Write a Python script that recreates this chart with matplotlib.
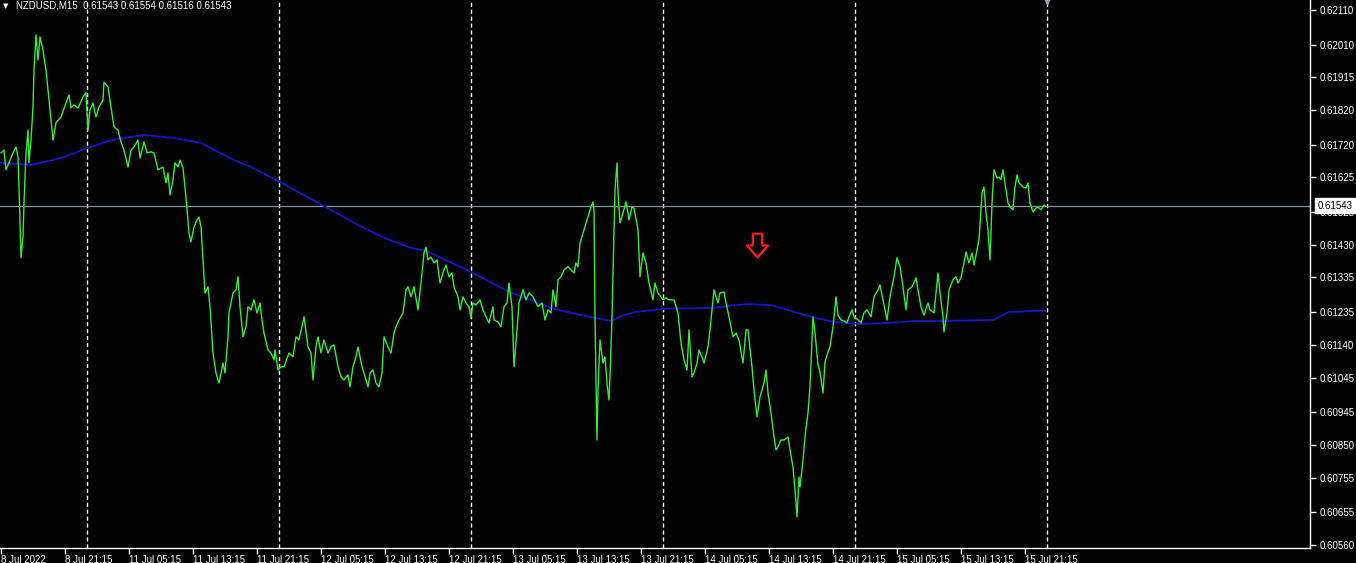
import matplotlib
matplotlib.use("Agg")
import matplotlib.pyplot as plt
import matplotlib.transforms as mtransforms
from matplotlib.path import Path

plt.rcParams['font.family'] = ['Liberation Sans', 'DejaVu Sans']

# NZDUSD M15 close (bar index, price)
green_bar = [0, 1.5, 2.5, 4, 6, 7.5, 8.5, 9, 10, 11, 11.5, 12.5, 13.5, 14, 15, 16, 16.5, 17.5, 18.5, 19.5,
             21, 22.5, 24, 26, 27.5, 30, 32.5, 34, 35, 36.5, 38.5, 41, 42.5, 43.5, 44.5, 46, 47.5, 49, 51, 51.5,
             53.5, 55, 56.5, 58.5, 60, 61.5, 63.5, 65, 66.5, 68.5, 69.5, 71.5, 73, 75, 76.5, 78.5, 81, 82.5, 83.5, 84.5,
             86, 87, 88.5, 89.5, 91, 92.5, 94, 95, 96.5, 98, 99, 100, 101, 102, 103.5, 104.5, 106, 107.5, 109, 111,
             112, 113.5, 114, 116, 117.5, 118.5, 119.5, 121, 122.5, 123.5, 125, 126.5, 128, 129.5, 130.5, 131.5, 133.5, 135, 136.5, 137,
             138.5, 140, 141.5, 144, 146, 147.5, 149, 151.5, 153.5, 155, 156, 157.5, 158.5, 160, 161.5, 163.5, 165, 166.5, 168.5, 170,
             171.5, 173.5, 174.5, 176, 177.5, 178.5, 180.5, 181.5, 183.5, 184.5, 186, 187.5, 189, 190.5, 191.5, 193.5, 195, 196.5, 197.5, 199,
             201, 202.5, 203.5, 205, 206.5, 208.5, 210, 211.5, 212.5, 213.5, 215, 216.5, 218, 219.5, 221.5, 222.5, 224, 225.5, 226.5, 228.5,
             229.5, 231, 232.5, 234, 235, 236, 237.5, 239.5, 241, 242.5, 244, 246, 246.5, 248.5, 250, 251.5, 253, 254, 255.5, 256.5,
             258, 259, 261, 262.5, 264, 266, 267.5, 268.5, 270.5, 272, 273.5, 275, 276, 277.5, 278.5, 280, 281.5, 283.5, 285, 286.5,
             287.5, 288.5, 289.5, 291.5, 293.5, 295, 296, 296.5, 297, 297.5, 298, 298.5, 299.5, 301, 302, 303, 304, 304.5, 305.5, 306.5,
             307, 308, 308.5, 309.5, 311, 312.5, 313.5, 314, 315.5, 316.5, 318.5, 319.5, 321, 322.5, 324, 326, 327, 328.5, 331, 332.5,
             334, 336.5, 338.5, 340, 341.5, 343, 344, 345.5, 346.5, 348, 349, 350.5, 351.5, 353.5, 354.5, 356.5, 358.5, 359.5, 361.5, 362.5,
             364, 366, 367.5, 369, 371, 372.5, 373.5, 375.5, 376.5, 378, 379.5, 381.5, 382.5, 383.5, 385, 386.5, 387.5, 388.5, 390, 391.5,
             393.5, 394.5, 396, 397, 398, 399, 399.5, 401, 402, 403.5, 404.5, 406, 407, 408.5, 409.5, 411, 412, 413.5, 414.5, 416,
             417.5, 418.5, 420, 421.5, 423, 424, 425.5, 426.5, 428.5, 430, 431.5, 433, 435, 436.5, 438.5, 439.5, 441, 443, 444.5, 446.5,
             448, 449.5, 451, 452.5, 453.5, 455.5, 457.5, 458.5, 460, 461.5, 463.5, 464.5, 466.5, 467.5, 468.5, 469.5, 471, 471.5, 473, 474,
             476, 477.5, 478.5, 480, 481.5, 482.5, 484, 485.5, 486.5, 488, 489, 490.5, 491.5, 492.5, 493.5, 494.5, 495.5, 496.5, 498, 499,
             500, 501, 502, 503.5, 504.5, 506, 507, 508, 509, 511, 512.5, 513.5, 514.5, 516, 517.5, 518.5, 520, 521.5, 522]
green_price = [0.61696, 0.61704, 0.61647, 0.61667, 0.61696, 0.61713, 0.61684, 0.61597, 0.61392, 0.61452, 0.61551, 0.61696, 0.61762, 0.61667, 0.61733, 0.61829, 0.61936, 0.62038, 0.61965, 0.62032,
               0.61994, 0.61936, 0.61849, 0.61733, 0.61783, 0.61800, 0.61841, 0.61864, 0.61826, 0.61835, 0.61826, 0.61858, 0.61870, 0.61762, 0.61820, 0.61841, 0.61800, 0.61829, 0.61849, 0.61901,
               0.61887, 0.61829, 0.61771, 0.61762, 0.61728, 0.61704, 0.61655, 0.61704, 0.61713, 0.61733, 0.61681, 0.61728, 0.61696, 0.61699, 0.61696, 0.61647, 0.61655, 0.61609, 0.61638, 0.61574,
               0.61618, 0.61667, 0.61655, 0.61675, 0.61652, 0.61568, 0.61464, 0.61438, 0.61481, 0.61502, 0.61510, 0.61481, 0.61386, 0.61290, 0.61308, 0.61250, 0.61116, 0.61058, 0.61029, 0.61087,
               0.61058, 0.61163, 0.61232, 0.61290, 0.61299, 0.61337, 0.61250, 0.61163, 0.61192, 0.61250, 0.61241, 0.61270, 0.61232, 0.61261, 0.61212, 0.61174, 0.61125, 0.61116, 0.61096, 0.61125,
               0.61067, 0.61076, 0.61076, 0.61116, 0.61105, 0.61163, 0.61154, 0.61221, 0.61134, 0.61116, 0.61038, 0.61134, 0.61163, 0.61116, 0.61154, 0.61116, 0.61134, 0.61140, 0.61076, 0.61047,
               0.61038, 0.61053, 0.61018, 0.61076, 0.61105, 0.61134, 0.61076, 0.61058, 0.61018, 0.61058, 0.61067, 0.61029, 0.61018, 0.61058, 0.61163, 0.61134, 0.61116, 0.61174, 0.61192, 0.61212,
               0.61232, 0.61299, 0.61308, 0.61279, 0.61308, 0.61241, 0.61319, 0.61406, 0.61423, 0.61386, 0.61394, 0.61377, 0.61386, 0.61319, 0.61357, 0.61371, 0.61337, 0.61348, 0.61308, 0.61279,
               0.61241, 0.61279, 0.61261, 0.61250, 0.61218, 0.61261, 0.61255, 0.61270, 0.61241, 0.61221, 0.61203, 0.61250, 0.61212, 0.61206, 0.61192, 0.61250, 0.61261, 0.61319, 0.61250, 0.61076,
               0.61183, 0.61261, 0.61299, 0.61270, 0.61290, 0.61279, 0.61261, 0.61250, 0.61261, 0.61212, 0.61241, 0.61232, 0.61299, 0.61250, 0.61328, 0.61337, 0.61357, 0.61366, 0.61357, 0.61348,
               0.61377, 0.61366, 0.61435, 0.61473, 0.61510, 0.61539, 0.61554, 0.61531, 0.61221, 0.61029, 0.60864, 0.61009, 0.61154, 0.61087, 0.61105, 0.61029, 0.60980, 0.61047, 0.61221, 0.61464,
               0.61589, 0.61667, 0.61580, 0.61493, 0.61522, 0.61554, 0.61522, 0.61502, 0.61539, 0.61536, 0.61473, 0.61337, 0.61406, 0.61377, 0.61319, 0.61270, 0.61319, 0.61290, 0.61270, 0.61276,
               0.61270, 0.61270, 0.61232, 0.61145, 0.61096, 0.61067, 0.61183, 0.61047, 0.61058, 0.61087, 0.61125, 0.61105, 0.61087, 0.61134, 0.61183, 0.61299, 0.61261, 0.61290, 0.61293, 0.61261,
               0.61221, 0.61163, 0.61174, 0.61154, 0.61087, 0.61183, 0.61183, 0.61076, 0.61009, 0.60931, 0.60989, 0.61029, 0.61067, 0.61000, 0.60943, 0.60873, 0.60835, 0.60844, 0.60864, 0.60864,
               0.60873, 0.60835, 0.60786, 0.60719, 0.60641, 0.60757, 0.60728, 0.60806, 0.60873, 0.60943, 0.61018, 0.61221, 0.61174, 0.61082, 0.61061, 0.61000, 0.61090, 0.61119, 0.61134, 0.61192,
               0.61279, 0.61226, 0.61212, 0.61209, 0.61203, 0.61221, 0.61241, 0.61221, 0.61212, 0.61203, 0.61232, 0.61241, 0.61221, 0.61279, 0.61299, 0.61313, 0.61270, 0.61212, 0.61279, 0.61337,
               0.61392, 0.61366, 0.61308, 0.61241, 0.61299, 0.61308, 0.61334, 0.61299, 0.61250, 0.61226, 0.61261, 0.61241, 0.61232, 0.61290, 0.61348, 0.61290, 0.61221, 0.61177, 0.61232, 0.61299,
               0.61328, 0.61337, 0.61319, 0.61334, 0.61377, 0.61409, 0.61377, 0.61406, 0.61371, 0.61415, 0.61444, 0.61580, 0.61597, 0.61522, 0.61473, 0.61386, 0.61551, 0.61647, 0.61623, 0.61626,
               0.61618, 0.61647, 0.61609, 0.61551, 0.61539, 0.61531, 0.61597, 0.61632, 0.61609, 0.61597, 0.61594, 0.61609, 0.61551, 0.61525, 0.61536, 0.61539, 0.61531, 0.61545, 0.61543]

# moving average (blue)
ma_bar = [0, 15, 30, 43.5, 55, 71.5, 86.5, 100, 107.5, 116.5, 125, 139.5, 161.5, 176.5, 191.5, 205, 212.5, 235, 254,
          276.5, 291.5, 305, 311.5, 317.5, 331.5, 355, 373.5, 385, 405, 416.5, 430, 443.5, 456.5, 471.5, 496, 504, 516.5, 522]
ma_price = [0.61667, 0.61661, 0.61681, 0.61710, 0.61733, 0.61748, 0.61739, 0.61725, 0.61702, 0.61675, 0.61655, 0.61612, 0.61542,
            0.61493, 0.61450, 0.61421, 0.61412, 0.61351, 0.61293, 0.61244, 0.61224, 0.61209, 0.61226, 0.61235, 0.61244, 0.61247,
            0.61258, 0.61255, 0.61221, 0.61206, 0.61200, 0.61203, 0.61209, 0.61209, 0.61212, 0.61235, 0.61238, 0.61238]

# axis labels
x_tick_bars = [0, 32, 64, 96, 128, 160, 192, 224, 256, 288, 320, 352, 384, 416, 448, 480, 512]
x_tick_labels = ['8 Jul 2022', '8 Jul 21:15', '11 Jul 05:15', '11 Jul 13:15', '11 Jul 21:15', '12 Jul 05:15',
                 '12 Jul 13:15', '12 Jul 21:15', '13 Jul 05:15', '13 Jul 13:15', '13 Jul 21:15', '14 Jul 05:15',
                 '14 Jul 13:15', '14 Jul 21:15', '15 Jul 05:15', '15 Jul 13:15', '15 Jul 21:15']
day_sep_bars = [43, 139, 235, 331, 427, 523]
y_ticks = [0.62110, 0.62010, 0.61915, 0.61820, 0.61720, 0.61625, 0.61525, 0.61430, 0.61335,
           0.61235, 0.61140, 0.61045, 0.60945, 0.60850, 0.60755, 0.60655, 0.60560]
title = 'NZDUSD,M15  0.61543 0.61554 0.61516 0.61543'
arrow_bar, arrow_price = 378, 0.61429

fig = plt.figure(figsize=(13.56, 5.63), dpi=100, facecolor='black')
ax = fig.add_axes([0, 15 / 563, 1310 / 1356, 548 / 563])
ax.set_facecolor('black')

for b in day_sep_bars:
    ax.axvline(b, color='white', lw=1, linestyle=(0, (3, 2)), zorder=1)

last_price = green_price[-1]
ax.axhline(last_price, color='#8a94a0', lw=0.9, zorder=2)

ax.plot(ma_bar, ma_price, color='#1515c8', lw=1.3, zorder=3)
ax.plot(green_bar, green_price, color='#33ee33', lw=1.0, zorder=4)

# red hollow down arrow
arrow_path = Path([(-0.2, 0.5), (0.2, 0.5), (0.2, 0.0), (0.45, 0.0), (0.0, -0.5),
                   (-0.45, 0.0), (-0.2, 0.0), (-0.2, 0.5)], closed=True)
ax.plot([arrow_bar], [arrow_price], marker=arrow_path, markersize=17,
        markerfacecolor='none', markeredgecolor='#ff1a1a', markeredgewidth=1.6, zorder=5)

ax.set_xlim(-0.5, 654.5)
ax.set_ylim(0.60551, 0.62139)

ax.set_xticks(x_tick_bars)
ax.set_xticklabels(x_tick_labels, ha='left')
ax.yaxis.tick_right()
ax.set_yticks(y_ticks)
ax.set_yticklabels(['%.5f' % v for v in y_ticks])
ax.tick_params(colors='white', labelsize=7, length=4, width=1, direction='out')
ax.tick_params(axis='x', pad=1)
ax.tick_params(axis='y', pad=3)

for side in ['top', 'left']:
    ax.spines[side].set_visible(False)
for side in ['bottom', 'right']:
    ax.spines[side].set_color('white')
    ax.spines[side].set_linewidth(1)

# current price box on the price scale
trans = mtransforms.blended_transform_factory(ax.transAxes, ax.transData)
ax.text(1.0055, last_price, '%.5f' % last_price, transform=trans, va='center', ha='left',
        fontsize=7, color='black', clip_on=False, zorder=10,
        bbox=dict(boxstyle='square,pad=0.25', facecolor='white', edgecolor='white'))

# chart shift marker at top
ax.plot([523], [0.62139], marker='v', markersize=6, color='#9aa0b4', clip_on=False, zorder=6)

fig.text(6 / 1356, 1 - 6 / 563, '\u25bc', color='white', fontsize=5, va='center', ha='center',
         family=['DejaVu Sans'])
fig.text(16 / 1356, 1 - 6 / 563, title, color='white', fontsize=7, va='center', ha='left')

fig.savefig('out.png', dpi=100, facecolor='black')
